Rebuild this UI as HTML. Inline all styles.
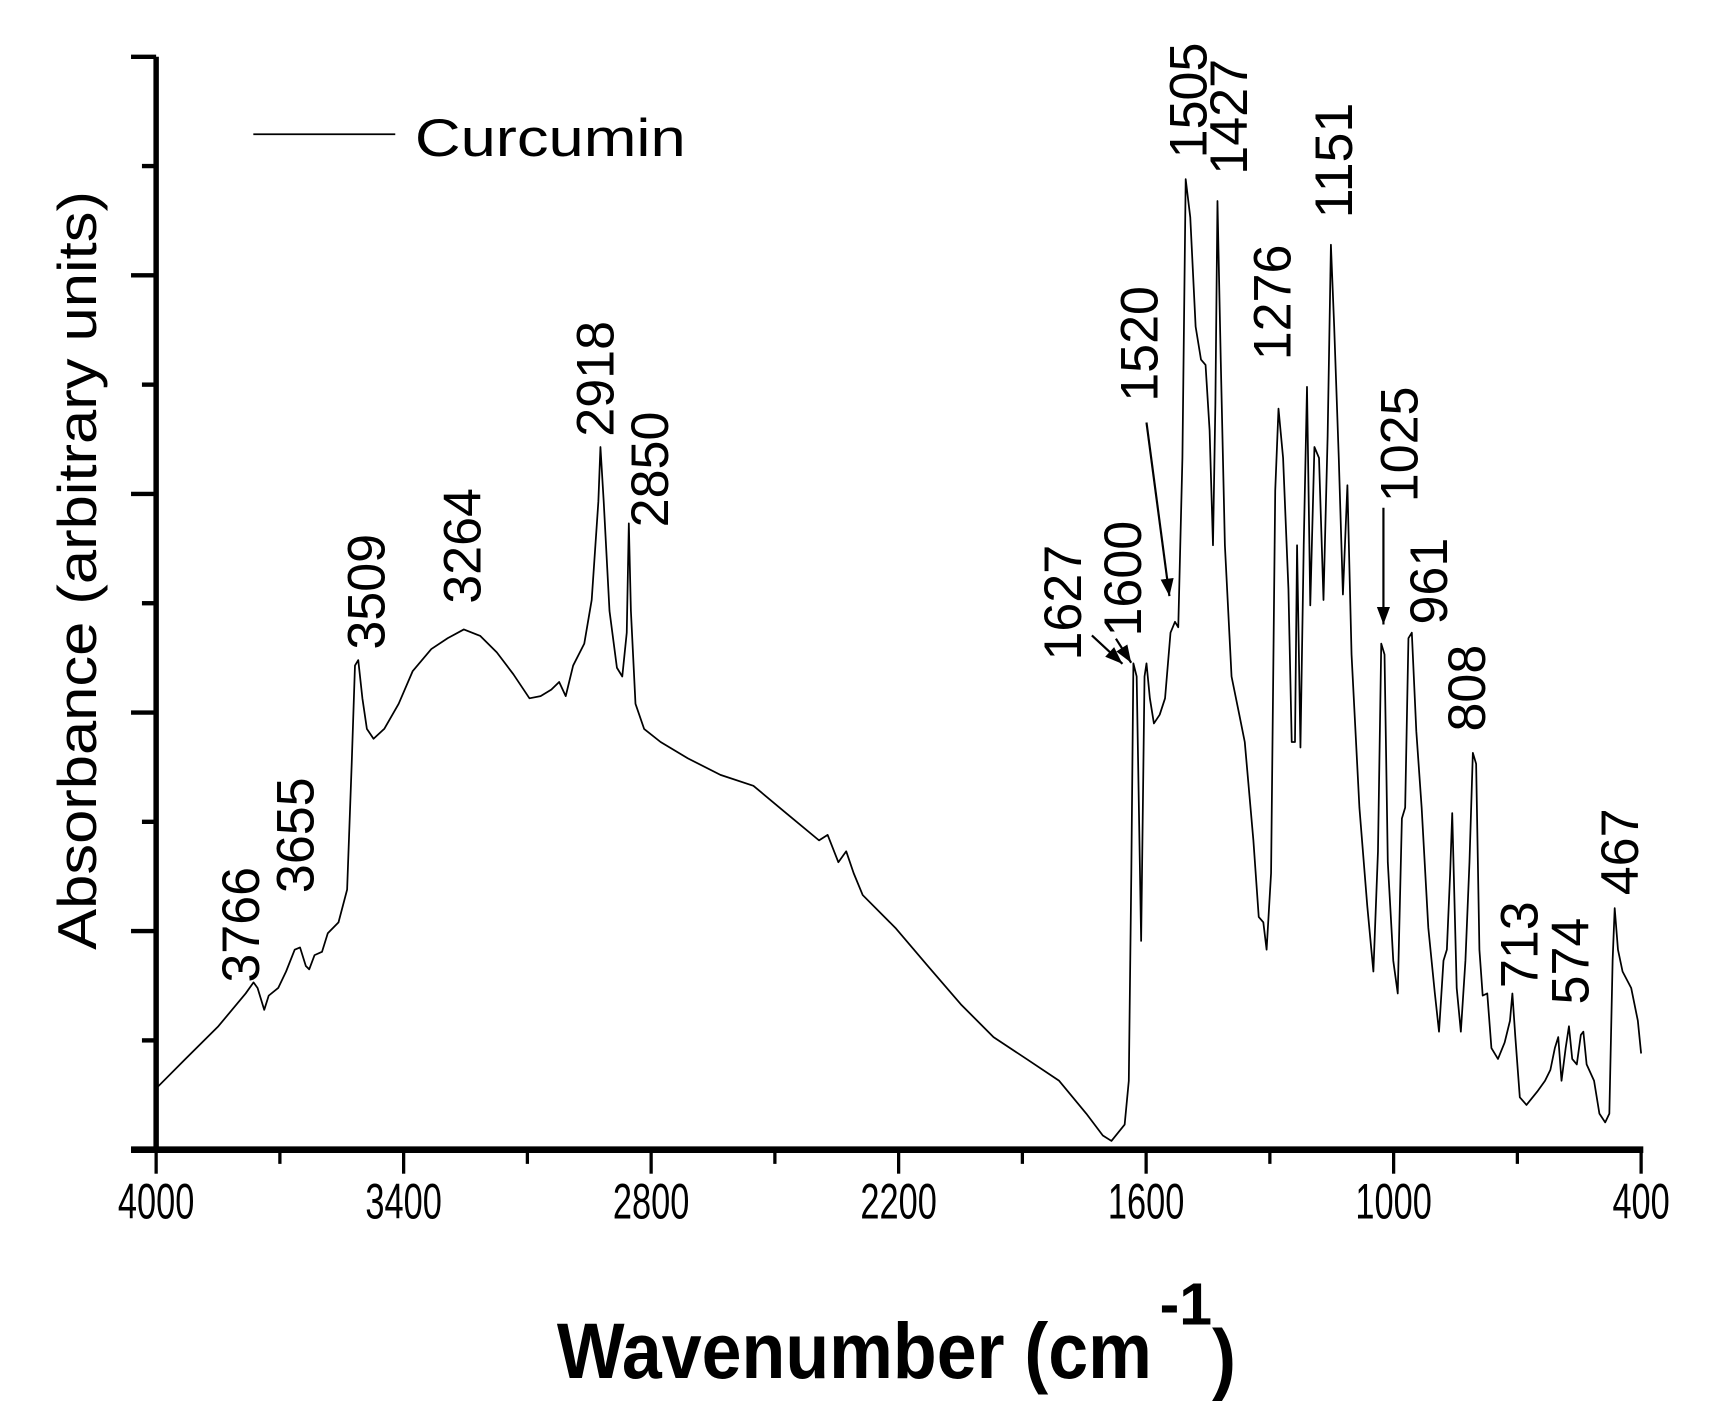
<!DOCTYPE html>
<html><head><meta charset="utf-8"><style>
html,body{margin:0;padding:0;background:#fff;}
svg{display:block;}
text{font-family:"Liberation Sans",sans-serif;fill:#000;}
</style></head><body>
<svg id="chart" width="1711" height="1427" viewBox="0 0 1567 1307" preserveAspectRatio="none" xmlns="http://www.w3.org/2000/svg">
<g id="axes"></g>
<path id="spectrum" fill="none" stroke="#000" stroke-width="1.6" stroke-linejoin="round"/>
<g id="annots"></g>
<g>
<line x1="232" y1="123" x2="362" y2="123" stroke="#000" stroke-width="1.6"/>
<text x="380" y="143" font-size="48" textLength="248" lengthAdjust="spacingAndGlyphs">Curcumin</text>
</g>
<text transform="translate(88,870) rotate(-90)" font-size="50" textLength="695" lengthAdjust="spacingAndGlyphs">Absorbance (arbitrary units)</text>
<g>
<text x="510" y="1262" font-size="72" font-weight="bold" textLength="545" lengthAdjust="spacingAndGlyphs">Wavenumber (cm</text>
<text x="1062" y="1213" font-size="54" font-weight="bold" textLength="48" lengthAdjust="spacingAndGlyphs">-1</text>
<text x="1110" y="1268" font-size="72" font-weight="bold" textLength="22" lengthAdjust="spacingAndGlyphs">)</text>
</g>
</svg>
<script>
const wavenumbers=[4000,3929,3849,3783,3764,3754,3738,3727,3704,3685,3664,3651,3637,3629,3616,3598,3584,3558,3537,3526,3518,3510,3500,3489,3473,3447,3412,3378,3333,3293,3254,3214,3174,3134,3095,3068,3042,3023,3007,2989,2962,2944,2928,2923,2915,2901,2883,2870,2859,2854,2849,2838,2817,2777,2711,2632,2552,2473,2393,2372,2346,2327,2309,2287,2208,2129,2049,1970,1890,1811,1745,1705,1684,1652,1642,1636,1631,1623,1612,1604,1599,1591,1581,1567,1554,1541,1530,1522,1512,1504,1493,1480,1467,1456,1446,1438,1432,1427,1419,1409,1393,1374,1361,1340,1327,1316,1308,1297,1287,1279,1268,1255,1247,1239,1234,1226,1218,1210,1202,1192,1181,1170,1160,1152,1144,1133,1123,1112,1102,1083,1064,1049,1038,1030,1022,1014,1001,990,980,972,964,956,945,932,916,900,890,879,871,863,858,847,837,826,816,808,800,792,784,773,763,747,731,718,712,705,694,678,652,633,620,609,601,593,583,575,567,556,546,540,532,514,501,487,477,469,464,456,445,424,408,400];
const absorbance=[56,83,113,143,153,148,128,141,148,163,183,185,168,165,178,181,198,208,238,353,443,448,413,385,376,385,408,438,458,468,476,470,455,435,413,415,421,428,415,443,463,503,593,643,593,493,441,433,473,573,493,408,385,373,358,343,333,308,283,288,263,273,253,233,203,168,133,103,83,63,33,13,8,23,63,253,445,433,191,433,445,413,390,398,413,473,483,478,633,888,853,753,723,718,658,553,683,868,723,553,433,398,373,283,213,208,183,253,603,678,633,513,373,373,553,368,553,698,498,643,633,503,653,828,753,633,508,608,453,313,223,163,273,463,453,263,173,143,303,313,468,473,383,313,203,143,108,173,183,253,308,148,108,173,263,363,353,183,141,143,93,83,98,118,143,103,48,41,53,63,73,93,103,63,93,113,83,78,105,108,78,63,33,25,33,173,221,183,163,148,118,88];
const xTicksMajor=[4000,3400,2800,2200,1600,1000,400];
const xTicksMinor=[3700,3100,2500,1900,1300,700];
const yTicksMajor=[0,200,400,600,800,1000];
const yTicksMinor=[100,300,500,700,900];
const peakLabels=["3766","3655","3509","3264","2918","2850","1627","1600","1520","1505","1427","1276","1151","1025","961","808","713","574","467"];
const labelX=[237,287,352,440,562,612,990,1045,1060,1105,1142,1182,1238,1298,1325,1360,1408,1455,1500];
const labelY=[900,818,595,553,400,483,605,583,368,145,160,330,200,460,572,670,905,920,820];

const X0=143,X1=1503,Y0=1053,Y1=52;
const xs=w=>X0+(4000-w)/3600*(X1-X0);
const ys=v=>Y0-v/1000*(Y0-Y1);
const NS="http://www.w3.org/2000/svg";
const axes=document.getElementById('axes');
function mk(tag,attrs,parent){const e=document.createElementNS(NS,tag);for(const k in attrs)e.setAttribute(k,attrs[k]);parent.appendChild(e);return e;}
let e;
e=mk('line',{x1:X0,y1:Y1,x2:X0,y2:Y0+2,stroke:'#000','stroke-width':5},axes);


e=mk('line',{x1:120,y1:Y0,x2:X1+2,y2:Y0,stroke:'#000','stroke-width':6},axes);


xTicksMajor.forEach(t=>{
 e=mk('line',{x1:xs(t),y1:Y0,x2:xs(t),y2:1075,stroke:'#000','stroke-width':3},axes);
 
 
 e=mk('text',{x:xs(t),y:1116,'font-size':46,'text-anchor':'middle',textLength:String(t).length*17.5,lengthAdjust:'spacingAndGlyphs'},axes);
 e.textContent=t;
 
 
});
xTicksMinor.forEach(t=>{
 e=mk('line',{x1:xs(t),y1:Y0,x2:xs(t),y2:1066,stroke:'#000','stroke-width':3},axes);
 
 
});
yTicksMajor.forEach(t=>{
 e=mk('line',{x1:120,y1:ys(t),x2:X0,y2:ys(t),stroke:'#000','stroke-width':4},axes);
 
 
});
yTicksMinor.forEach(t=>{
 e=mk('line',{x1:130,y1:ys(t),x2:X0,y2:ys(t),stroke:'#000','stroke-width':4},axes);
 
 
});
let d='';
wavenumbers.forEach((w,i)=>{d+=(i?'L':'M')+xs(w).toFixed(1)+','+ys(absorbance[i]).toFixed(1);});
document.getElementById('spectrum').setAttribute('d',d);
const an=document.getElementById('annots');
peakLabels.forEach((s,i)=>{
 e=mk('text',{transform:`translate(${labelX[i]},${labelY[i]}) rotate(-90)`,'font-size':48,textLength:s.length*26.5,lengthAdjust:'spacingAndGlyphs'},an);
 e.textContent=s;
 
 
});
const arrows=[[1000,582,1028,608],[1022,585,1036,607],[1050,387,1071,546],[1267,465,1267,572]];
arrows.forEach(a=>{
 const [x1,y1,x2,y2]=a;const ang=Math.atan2(y2-y1,x2-x1),L=16,W=6;
 e=mk('line',{x1,y1,x2,y2,stroke:'#000','stroke-width':2},an);
 
 
 const bx=x2-L*Math.cos(ang),by=y2-L*Math.sin(ang);
 const p=`${x2},${y2} ${bx+W*Math.sin(ang)},${by-W*Math.cos(ang)} ${bx-W*Math.sin(ang)},${by+W*Math.cos(ang)}`;
 e=mk('polygon',{points:p,fill:'#000'},an);
 
 
});
</script>
</body></html>
